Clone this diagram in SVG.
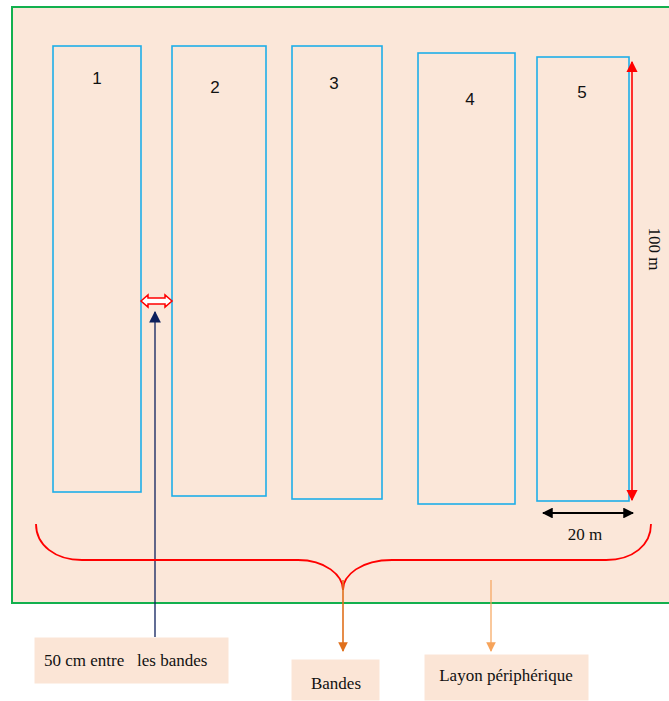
<svg xmlns="http://www.w3.org/2000/svg" width="669" height="701" viewBox="0 0 669 701">
  <style>
    .field { fill: #FBE7D9; stroke: #12B04E; stroke-width: 2; }
    .band { fill: none; stroke: #1EAEE8; stroke-width: 1.6; }
    .num { font-family: "Liberation Sans", Arial, sans-serif; font-size: 17px; fill: #111; text-anchor: middle; }
    .lbl { font-family: "Liberation Serif", "Times New Roman", serif; font-size: 17px; fill: #111; white-space: pre; }
    .box { fill: #FBE5D6; stroke: #FFFFFF; stroke-width: 1; }
  </style>
  <defs>
    <marker id="redHead" viewBox="0 0 10 10" refX="9" refY="5" markerWidth="7" markerHeight="7" orient="auto-start-reverse">
      <path d="M0,0 L10,5 L0,10 z" fill="#FF0000"/>
    </marker>
    <marker id="blackHead" viewBox="0 0 10 10" refX="9" refY="5" markerWidth="6" markerHeight="6" orient="auto-start-reverse">
      <path d="M0,0 L10,5 L0,10 z" fill="#000"/>
    </marker>
    <marker id="navyHead" viewBox="0 0 10 10" refX="9" refY="5" markerWidth="9" markerHeight="9" orient="auto">
      <path d="M0,0 L10,5 L0,10 z" fill="#0D1F5C"/>
    </marker>
    <marker id="orangeHead" viewBox="0 0 10 10" refX="9" refY="5" markerWidth="6" markerHeight="6" orient="auto">
      <path d="M0,0 L10,5 L0,10 z" fill="#E0701C"/>
    </marker>
    <marker id="lightOrangeHead" viewBox="0 0 10 10" refX="9" refY="5" markerWidth="8" markerHeight="8" orient="auto">
      <path d="M0,0 L10,5 L0,10 z" fill="#F6A35A"/>
    </marker>
  </defs>

  <!-- peripheral field -->
  <rect class="field" x="12" y="7" width="670" height="596"/>

  <!-- bands -->
  <g id="band1"><rect class="band" x="53" y="46" width="88" height="446"/><text class="num" x="97" y="84">1</text></g>
  <g id="band2"><rect class="band" x="172" y="46" width="94" height="450"/><text class="num" x="215" y="93">2</text></g>
  <g id="band3"><rect class="band" x="292" y="46" width="90" height="453"/><text class="num" x="334" y="89">3</text></g>
  <g id="band4"><rect class="band" x="418" y="53" width="97" height="451"/><text class="num" x="470" y="105">4</text></g>
  <g id="band5"><rect class="band" x="537" y="57" width="92" height="444"/><text class="num" x="582" y="98">5</text></g>

  <!-- labels -->
  <g id="label-gap"><rect class="box" x="34" y="637" width="195" height="47"/><text class="lbl" x="44" y="666" xml:space="preserve">50 cm entre   les bandes</text></g>
  <g id="label-bandes"><rect class="box" x="291" y="659" width="89" height="42"/><text class="lbl" x="336" y="689" text-anchor="middle">Bandes</text></g>
  <g id="label-layon"><rect class="box" x="424" y="654" width="165" height="47"/><text class="lbl" x="506" y="681" text-anchor="middle">Layon périphérique</text></g>

  <!-- dimension texts -->
  <text class="lbl" x="0" y="0" text-anchor="middle" transform="translate(649,249) rotate(90)">100 m</text>
  <text class="lbl" x="585" y="540" text-anchor="middle">20 m</text>

  <g id="connectors">
    <!-- 100 m -->
    <line x1="632" y1="500" x2="632" y2="62" stroke="#FF0000" stroke-width="1.6" marker-start="url(#redHead)" marker-end="url(#redHead)"/>
    <!-- 20 m -->
    <line x1="543" y1="513" x2="633" y2="513" stroke="#000" stroke-width="1.8" marker-start="url(#blackHead)" marker-end="url(#blackHead)"/>
    <!-- hollow double arrow between bands 1 and 2 -->
    <path d="M141,301 L148,295 L148,298 L165,298 L165,295 L172,301 L165,307 L165,304 L148,304 L148,307 Z" fill="#FFFFFF" stroke="#FF0000" stroke-width="1.5"/>
    <!-- pointer to gap -->
    <line x1="155" y1="637" x2="155" y2="312" stroke="#0D1F5C" stroke-width="1.3" marker-end="url(#navyHead)"/>
    <!-- brace -->
    <path d="M36,524 C36,545 55,560 82,560 L298,560 C325,560 343,575 343,590 C343,575 361,560 392,560 L606,560 C633,560 651,545 651,524" fill="none" stroke="#FF0000" stroke-width="1.8"/>
    <!-- arrows to labels -->
    <line x1="343" y1="580" x2="343" y2="651" stroke="#E0701C" stroke-width="1.6" marker-end="url(#orangeHead)"/>
    <line x1="491" y1="580" x2="491" y2="651" stroke="#F6A35A" stroke-width="1.2" marker-end="url(#lightOrangeHead)"/>
  </g>
</svg>
